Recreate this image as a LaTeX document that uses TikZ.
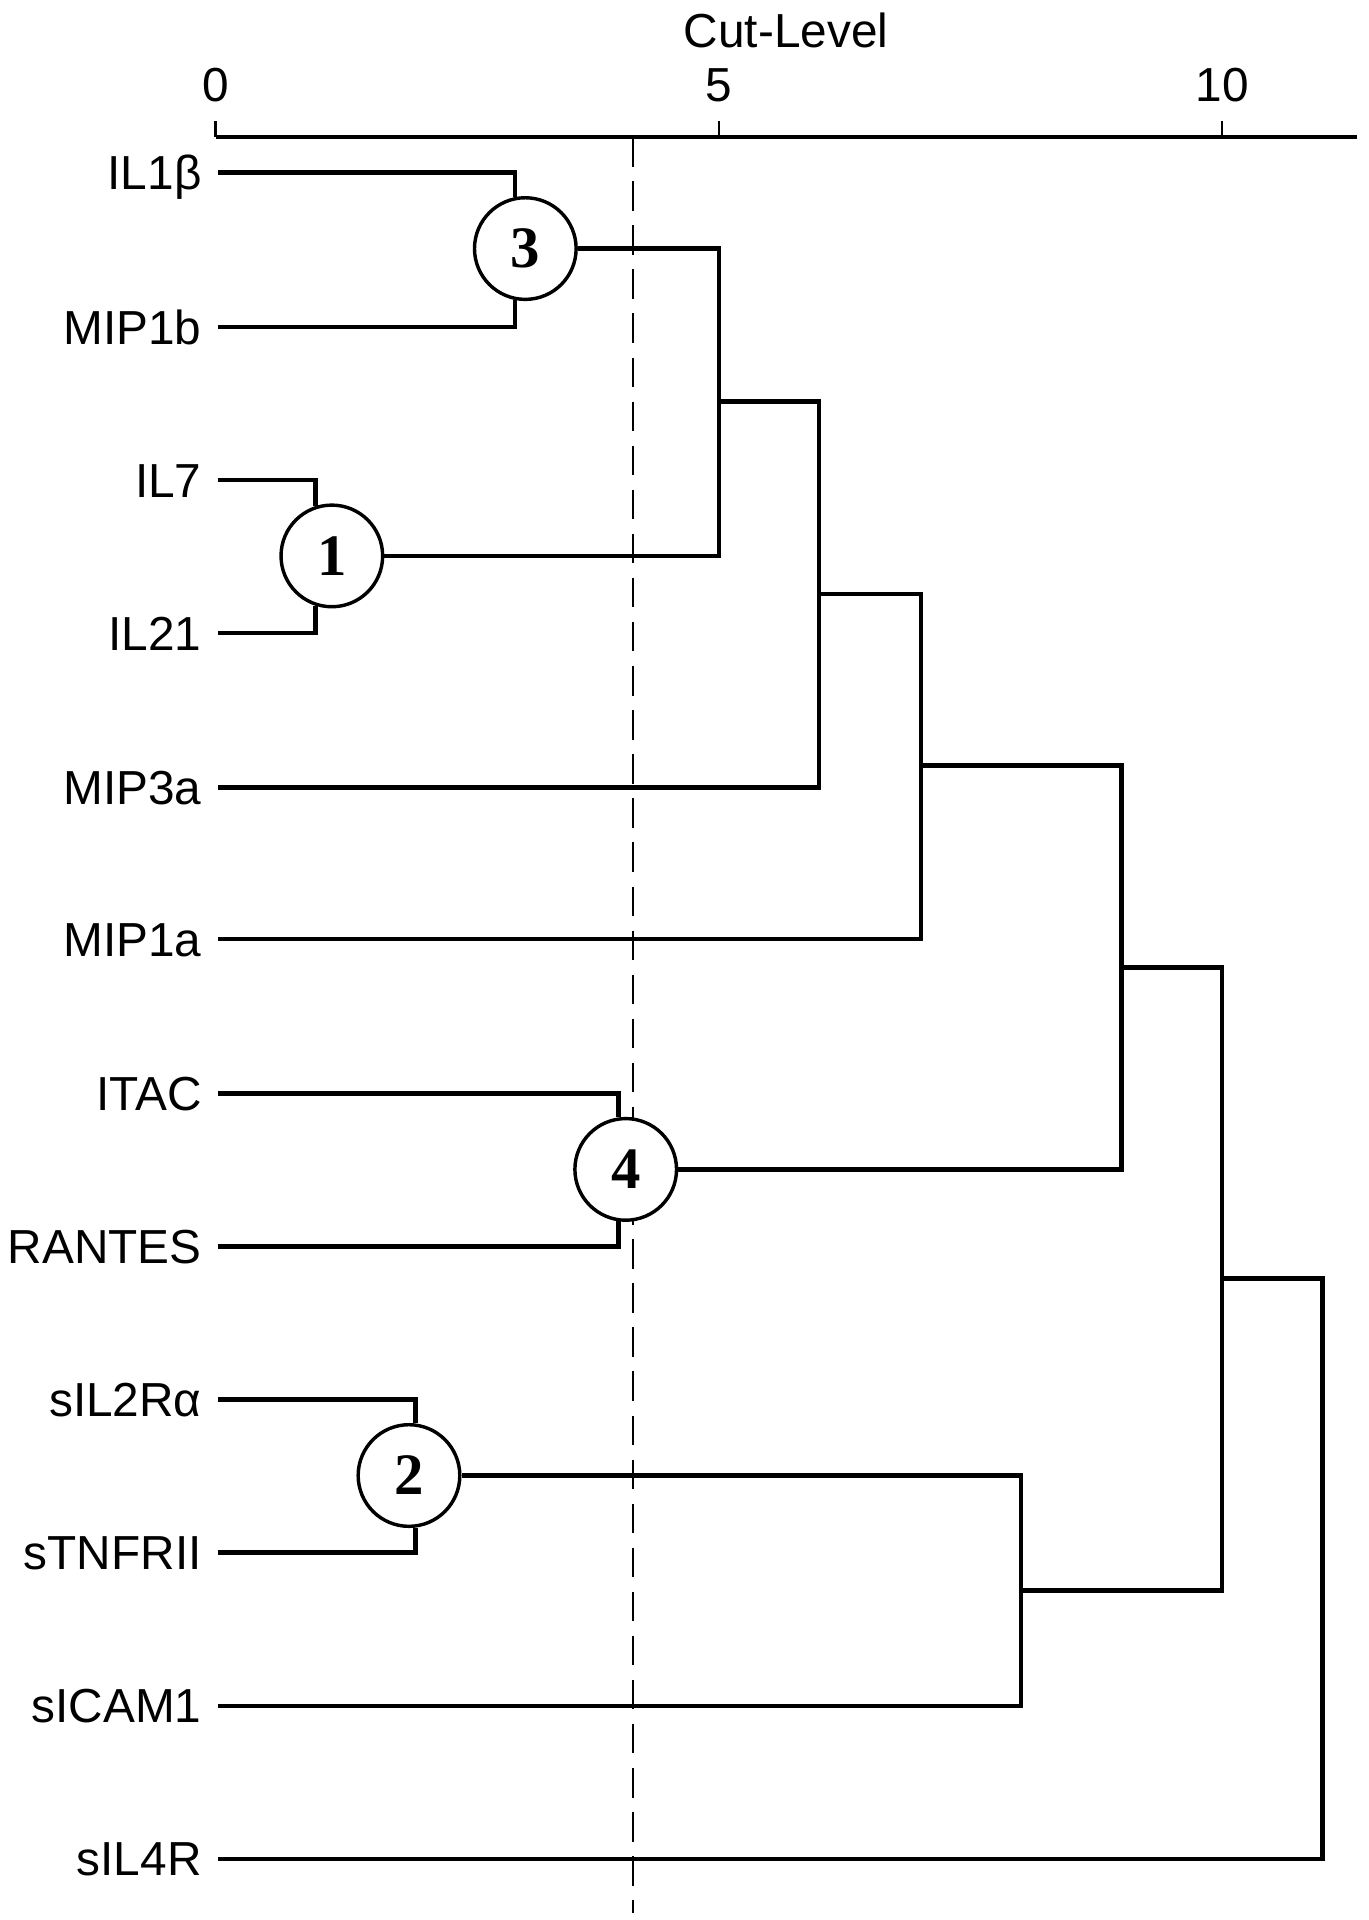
\documentclass[tikz,border=0pt]{standalone}
\usepackage{fontspec}
\setmainfont{Liberation Sans}
\newfontfamily\numfont{Liberation Serif}
\begin{document}
\begin{tikzpicture}[x=0.5pt,y=-0.5pt,
  lbl/.style={anchor=east,inner xsep=6.5pt,inner ysep=0pt,text height=14pt,text depth=0pt,
    font=\fontsize{19.5}{23}\selectfont},
  axlbl/.style={anchor=base,inner sep=0pt,font=\fontsize{19.5}{23}\selectfont},
  circ/.style={circle,draw,fill=white,minimum size=41.5pt,inner sep=0pt,line width=1.4pt,
    font=\numfont\bfseries\fontsize{24}{24}\selectfont},
  link/.style={line width=1.8pt,line join=miter},
  axisline/.style={line width=1.8pt},
  tick/.style={line width=0.9pt},
  cut/.style={line width=0.9pt,dash pattern=on 12pt off 6pt}]
\useasboundingbox[fill=white] (0,0) rectangle (1118,1568);

% axis
\coordinate (a0) at (176,112);
\coordinate (a5) at (587,112);
\coordinate (a10) at (998,112);
\coordinate (aend) at (1108,112);
\draw[axisline] (a0) -- (aend);
\foreach \p in {a0,a5,a10} \draw[tick] (\p) -- ++(0,-13);
\node[axlbl] (t0) at (176,83) {0};
\node[axlbl] (t5) at (587,83) {5};
\node[axlbl] (t10) at (998,83) {10};
\node[axlbl] (title) at (642,39) {Cut-Level};

% cut line
\coordinate (cutTop) at (517,112);
\coordinate (cutBot) at (517,1562);
\draw[cut] (cutTop) -- (cutBot);

% leaves
\node[lbl] (IL1b) at (178,141) {IL1β};
\node[lbl] (MIP1b) at (178,267) {MIP1b};
\node[lbl] (IL7) at (178,392) {IL7};
\node[lbl] (IL21) at (178,517) {IL21};
\node[lbl] (MIP3a) at (178,643) {MIP3a};
\node[lbl] (MIP1a) at (178,767) {MIP1a};
\node[lbl] (ITAC) at (178,893) {ITAC};
\node[lbl] (RANTES) at (178,1018) {RANTES};
\node[lbl] (sIL2Ra) at (178,1143) {sIL2Rα};
\node[lbl] (sTNFRII) at (178,1268) {sTNFRII};
\node[lbl] (sICAM1) at (178,1393) {sICAM1};
\node[lbl] (sIL4R) at (178,1518) {sIL4R};

% numbered clusters
\node[circ] (c3) at (429,203) {3};
\node[circ] (c1) at (271,454) {1};
\node[circ] (c4) at (511,955) {4};
\node[circ] (c2) at (334,1205) {2};

% internal joins
\coordinate (m5) at (587,328);
\coordinate (m6) at (669,485);
\coordinate (m7) at (752,625);
\coordinate (m9) at (916,790);
\coordinate (m8) at (834,1299);
\coordinate (m10) at (998,1044);
\coordinate (root) at (1080,1281);

% links
\draw[link] (IL1b.east) -| (c3.101);
\draw[link] (MIP1b.east) -| (c3.-101);
\draw[link] (IL7.east) -| (c1.108);
\draw[link] (IL21.east) -| (c1.-108);
\draw[link] (ITAC.east) -| (c4.98);
\draw[link] (RANTES.east) -| (c4.-98);
\draw[link] (sIL2Ra.east) -| (c2.83);
\draw[link] (sTNFRII.east) -| (c2.-83);
\draw[link] (c3.east) -| (m5);
\draw[link] (c1.east) -| (m5);
\draw[link] (m5) -| (m6);
\draw[link] (MIP3a.east) -| (m6);
\draw[link] (m6) -| (m7);
\draw[link] (MIP1a.east) -| (m7);
\draw[link] (m7) -| (m9);
\draw[link] (c4.east) -| (m9);
\draw[link] (c2.east) -| (m8);
\draw[link] (sICAM1.east) -| (m8);
\draw[link] (m9) -| (m10);
\draw[link] (m8) -| (m10);
\draw[link] (m10) -| (root);
\draw[link] (sIL4R.east) -| (root);
\end{tikzpicture}
\end{document}
